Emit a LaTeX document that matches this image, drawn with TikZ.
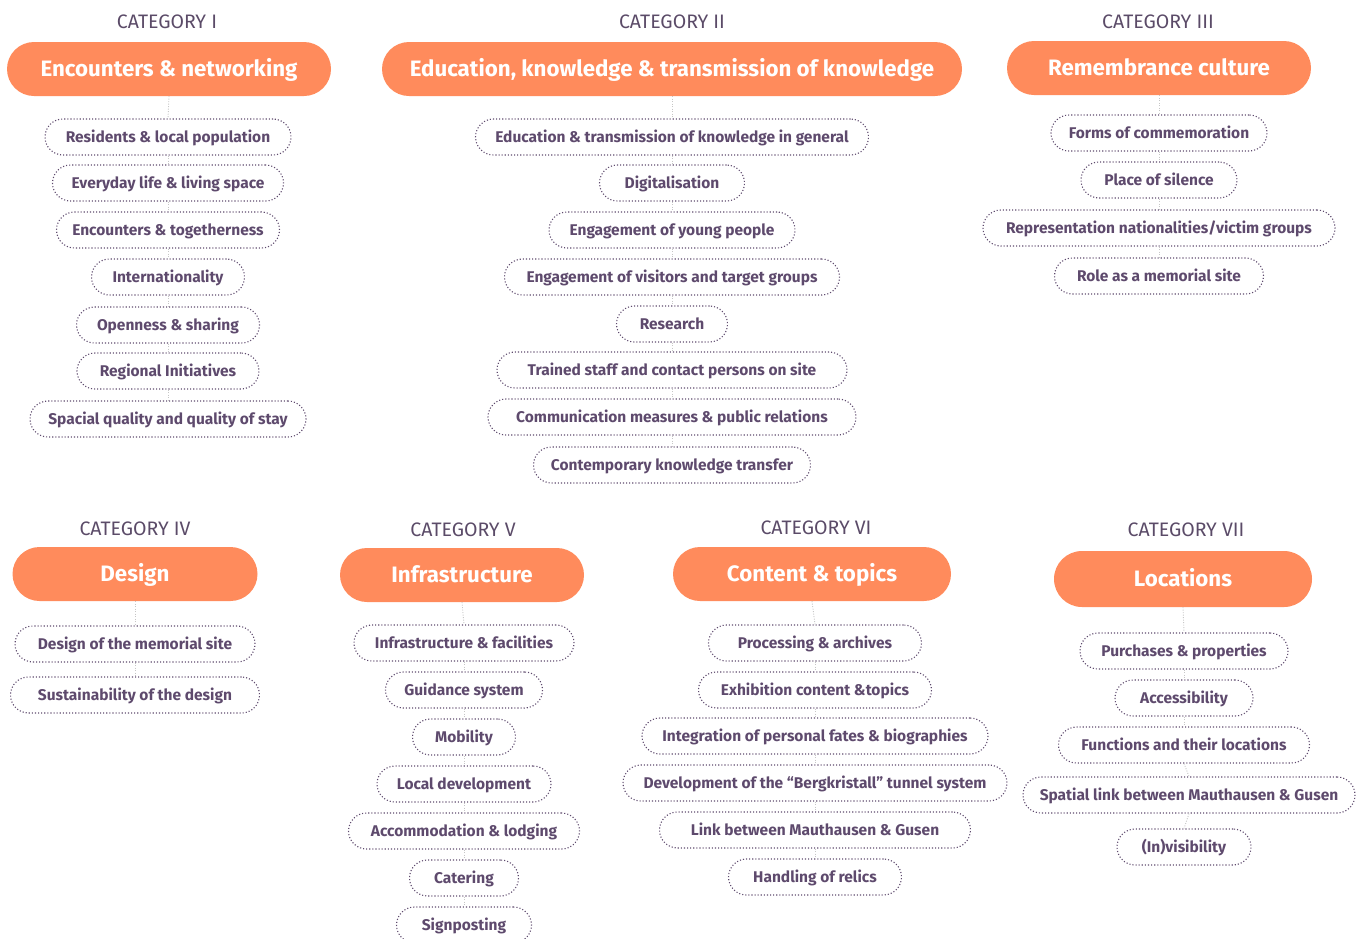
\documentclass[tikz,border=0pt]{standalone}
\usepackage{fontspec}
\setmainfont{Fira Sans}
\definecolor{accent}{HTML}{FF8B5C}
\definecolor{ink}{HTML}{5E4A6D}
\definecolor{headink}{HTML}{5B4B68}
\definecolor{linkgray}{HTML}{C6C6C6}

\tikzset{
  cathead/.style={text=headink, font=\fontsize{19.5}{22}\selectfont, inner sep=0pt},
  pill/.style={fill=accent, text=white, rounded corners=27pt, minimum height=54pt,
    font=\fontsize{22.3}{26}\selectfont\bfseries, inner sep=0pt,
    text height=20pt, text depth=5pt},
  itembox/.style={draw=ink, line width=1.1pt, dash pattern=on 1.1pt off 2pt,
    rounded corners=18pt, minimum height=36pt, inner xsep=8pt, inner ysep=0pt,
    text=ink, font=\fontsize{15.5}{18}\selectfont\bfseries,
    text height=15pt, text depth=3.5pt},
  link/.style={draw=linkgray, line width=0.9pt, dash pattern=on 1pt off 1.5pt},
  % individual offsets of single boxes
  c7-4/.style={xshift=5pt},
}

% One column of topic boxes hanging below the pill named #1-0.
% #1: prefix, #2: x of the column, #3: list of y/width/text
\newcommand\catcolumn[3]{%
  \foreach \yy/\ww/\txt [count=\i, remember=\i as \j (initially 0)] in {#3}{%
    \node[itembox, minimum width=\ww pt, #1-\i/.try] (#1-\i) at (#2,\yy) {\txt};
    \draw[link] (#1-\j.south) -- (#1-\i.north);
  }%
}

\begin{document}
\begin{tikzpicture}[x=1pt, y=-1pt]
\path[use as bounding box] (0,0) rectangle (1362,938);

% ---------- Category I ----------
\node[cathead] (h1) at (167,22) {CATEGORY I};
\node[pill, minimum width=324pt] (c1-0) at (169,69) {Encounters \& networking};
\catcolumn{c1}{168}{
  137/246/{Residents \& local population},
  183/231/{Everyday life \& living space},
  230/223/{Encounters \& togetherness},
  277/153/{Internationality},
  325/183/{Openness \& sharing},
  371/182/{Regional Initiatives},
  419/276/{Spacial quality and quality of stay}}

% ---------- Category II ----------
\node[cathead] (h2) at (672,22) {CATEGORY II};
\node[pill, minimum width=580pt] (c2-0) at (672,69) {Education, knowledge \& transmission of knowledge};
\catcolumn{c2}{672}{
  137/393/{Education \& transmission of knowledge in general},
  183/145/{Digitalisation},
  230/246/{Engagement of young people},
  277/335/{Engagement of visitors and target groups},
  324/111/{Research},
  370/350/{Trained staff and contact persons on site},
  417/368/{Communication measures \& public relations},
  465/277/{Contemporary knowledge transfer}}

% ---------- Category III ----------
\node[cathead] (h3) at (1158,22) {CATEGORY III};
\node[pill, minimum width=304pt] (c3-0) at (1159,68) {Remembrance culture};
\catcolumn{c3}{1159}{
  133/216/{Forms of commemoration},
  180/156/{Place of silence},
  228/352/{Representation nationalities/victim groups},
  276/209/{Role as a memorial site}}

% ---------- Category IV ----------
\node[cathead] (h4) at (135,529) {CATEGORY IV};
\node[pill, minimum width=245pt] (c4-0) at (135,574) {Design};
\catcolumn{c4}{135}{
  644/240/{Design of the memorial site},
  695/249/{Sustainability of the design}}

% ---------- Category V ----------
\node[cathead] (h5) at (463,530) {CATEGORY V};
\node[pill, minimum width=244pt] (c5-0) at (462,575) {Infrastructure};
\catcolumn{c5}{464}{
  643/220/{Infrastructure \& facilities},
  690/157/{Guidance system},
  737/103/{Mobility},
  784/174/{Local development},
  831/231/{Accommodation \& lodging},
  878/109/{Catering},
  925/135/{Signposting}}

% ---------- Category VI ----------
\node[cathead] (h6) at (816,528) {CATEGORY VI};
\node[pill, minimum width=278pt] (c6-0) at (812,574) {Content \& topics};
\catcolumn{c6}{815}{
  643/213/{Processing \& archives},
  690/233/{Exhibition content \&topics},
  736/346/{Integration of personal fates \& biographies},
  783/384/{Development of the “Bergkristall” tunnel system},
  830/311/{Link between Mauthausen \& Gusen},
  877/173/{Handling of relics}}

% ---------- Category VII ----------
\node[cathead] (h7) at (1186,530) {CATEGORY VII};
\node[pill, minimum width=258pt, minimum height=56pt, rounded corners=28pt] (c7-0) at (1183,579) {Locations};
\catcolumn{c7}{1184}{
  651/208/{Purchases \& properties},
  698/138/{Accessibility},
  745/251/{Functions and their locations},
  795/332/{Spatial link between Mauthausen \& Gusen},
  847/134/{(In)visibility}}
\end{tikzpicture}
\end{document}
